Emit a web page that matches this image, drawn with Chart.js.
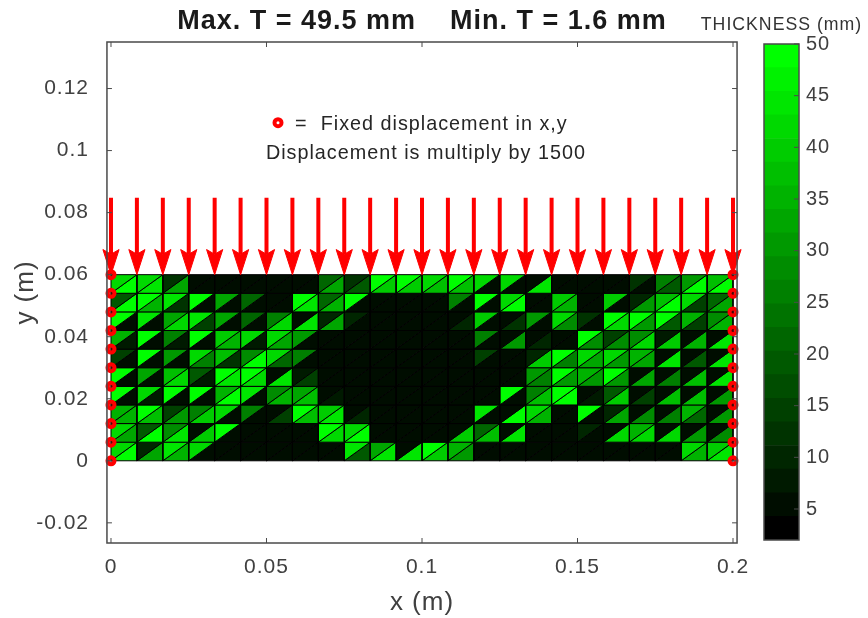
<!DOCTYPE html>
<html>
<head>
<meta charset="utf-8">
<title>Thickness map</title>
<script src="https://cdn.jsdelivr.net/npm/chart.js@4/dist/chart.umd.min.js"></script>
<style>
  html, body { margin: 0; padding: 0; background: #fff; }
  #wrap { position: relative; width: 868px; height: 618px; overflow: hidden; }
  #meshChart { position: absolute; left: 0; top: 0; }
  #barChart { position: absolute; left: 694px; top: 0; }
</style>
</head>
<body>
<div id="wrap">
  <canvas id="meshChart" width="868" height="618"></canvas>
  <canvas id="barChart" width="174" height="559"></canvas>
</div>
<script>
// mesh nodes
const xNodes = [0, 0.00833, 0.01667, 0.025, 0.03333, 0.04167, 0.05, 0.05833, 0.06667, 0.075, 0.08333, 0.09167, 0.1,
  0.10833, 0.11667, 0.125, 0.13333, 0.14167, 0.15, 0.15833, 0.16667, 0.175, 0.18333, 0.19167, 0.2];
const yNodes = [0.06, 0.054, 0.048, 0.042, 0.036, 0.03, 0.024, 0.018, 0.012, 0.006, 0];

// thickness (mm), one row per element row from the top, upper-left triangles
const upperThickness = [
  [42,42,12,5,5,5,5,5, 22,12,48,48,42,48,42,42, 6,5,5,5,12,25,30,38],
  [18,50,45,50,32,22,5,48, 22,50,5,5,5,25,48,42, 5,40,5,40,10,38,42,22],
  [48,45,33,45,32,22,25,5, 10,10,5,5,5,5,40,5, 30,42,12,48,48,48,35,28],
  [35,48,25,48,40,42,42,30, 5,5,5,5,5,5,25,5, 5,5,48,15,28,8,5,5],
  [15,48,30,42,38,28,42,25, 5,5,5,5,5,5,15,5, 10,48,42,42,35,5,5,5],
  [48,32,38,20,50,50,5,8, 5,5,5,5,5,5,5,5, 30,48,35,48,5,5,5,5],
  [48,42,48,48,35,45,28,33, 5,5,5,5,5,5,5,48, 25,48,5,18,5,5,5,5],
  [35,48,15,25,42,25,5,48, 40,5,5,5,5,5,45,5, 42,5,48,10,5,5,35,5],
  [42,20,28,5,48,5,5,5, 48,42,5,5,5,5,22,5, 5,5,10,5,35,5,5,5],
  [42,10,45,42,5,5,5,5, 5,45,32,5,48,35,5,5, 5,5,5,5,5,5,42,40]
];
// lower-right triangles
const lowerThickness = [
  [50,45,32,5,5,5,5,5, 32,20,40,40,38,38,5,5, 45,5,5,5,5,18,48,48],
  [48,35,12,5,5,6,5,45, 35,5,5,5,5,5,5,48, 5,35,5,5,30,48,15,32],
  [5,5,42,15,5,5,42,45, 32,5,5,5,5,10,5,12, 5,28,5,42,30,18,15,35],
  [8,5,8,5,35,8,32,5, 5,5,5,5,5,5,5,30, 10,5,28,28,42,40,35,45],
  [5,5,5,25,12,50,22,5, 5,5,5,5,5,5,5,5, 40,25,32,30,32,45,20,45],
  [5,5,42,8,45,42,45,15, 5,5,5,5,5,5,5,5, 25,30,30,30,32,25,38,45],
  [5,8,5,5,48,5,35,38, 8,5,5,5,5,5,5,5, 38,48,8,40,15,38,38,30],
  [35,38,30,40,5,5,15,38, 45,10,5,5,5,5,5,48, 35,6,5,32,28,25,22,30],
  [32,50,45,40,5,5,5,5, 42,48,5,5,5,40,38,45, 5,5,5,42,42,42,30,28],
  [48,32,35,5,5,5,5,5, 5,20,45,45,40,30,6,5, 5,5,5,5,5,5,35,45]
];

const xTicks = [0, 0.05, 0.1, 0.15, 0.2];
const yTicks = [-0.02, 0, 0.02, 0.04, 0.06, 0.08, 0.1, 0.12];
const barTicks = [5, 10, 15, 20, 25, 30, 35, 40, 45, 50];

const thicknessMin = 2;
const thicknessMax = 50;
const bandCount = 21;

// axes box limits; the scales run a little wider so the outer arrow heads are not cut
const boxX = [-0.0013, 0.2013];
const boxY = [-0.0265, 0.135];

const titleText = "Max. T = 49.5 mm    Min. T = 1.6 mm";
const noteFixed = "=  Fixed displacement in x,y";
const noteScale = "Displacement is multiply by 1500";
const barTitle = "THICKNESS (mm)";

const labelColor = "#404040";
const sansFont = "'Liberation Sans', Arial, sans-serif";
const textSpacing = "1px";

function bandIndex(t) {
  const k = Math.floor((t - thicknessMin) / (thicknessMax - thicknessMin) * bandCount);
  return Math.max(0, Math.min(bandCount - 1, k));
}

function bandColor(k) {
  return `rgb(0,${Math.round(255 * k / (bandCount - 1))},0)`;
}

// the two triangles of every element
const meshDatasets = [];
upperThickness.forEach((row, r) => {
  row.forEach((t, c) => {
    const x0 = xNodes[c], x1 = xNodes[c + 1], yT = yNodes[r], yB = yNodes[r + 1];
    const upper = [{x: x0, y: yB}, {x: x0, y: yT}, {x: x1, y: yT}, {x: x0, y: yB}];
    const lower = [{x: x0, y: yB}, {x: x1, y: yT}, {x: x1, y: yB}, {x: x0, y: yB}];
    meshDatasets.push(triangle(upper, t));
    meshDatasets.push(triangle(lower, lowerThickness[r][c]));
  });
});

function triangle(points, t) {
  const col = bandColor(bandIndex(t));
  return {
    data: points,
    showLine: true,
    pointRadius: 0,
    borderColor: "#000",
    borderWidth: 1,
    backgroundColor: col,
    fill: "shape",
    tension: 0
  };
}

// load arrows, one per top node
const arrowTop = 0.0848;
const arrowTip = 0.06;
const arrowNeck = 0.0666;
const arrowWingY = 0.0681;
const arrowWing = 0.0026;

const arrowDatasets = [];
xNodes.forEach(x => {
  arrowDatasets.push({
    data: [{x: x, y: arrowTop}, {x: x, y: arrowNeck}],
    showLine: true,
    pointRadius: 0,
    borderColor: "#ff0000",
    borderWidth: 4,
    clip: false
  });
  arrowDatasets.push({
    data: [{x: x, y: arrowTip}, {x: x + arrowWing, y: arrowWingY}, {x: x, y: arrowNeck},
      {x: x - arrowWing, y: arrowWingY}, {x: x, y: arrowTip}],
    showLine: true,
    pointRadius: 0,
    borderColor: "#ff0000",
    borderWidth: 1,
    backgroundColor: "#ff0000",
    fill: "shape",
    tension: 0,
    clip: false
  });
});

// fixed nodes on both ends, plus the key marker
const fixedNodes = [];
yNodes.forEach(y => {
  fixedNodes.push({x: xNodes[0], y: y});
  fixedNodes.push({x: xNodes[xNodes.length - 1], y: y});
});
const fixedDataset = {
  data: fixedNodes,
  showLine: false,
  pointRadius: 3.5,
  pointBorderWidth: 4,
  pointBorderColor: "#ff0000",
  pointBackgroundColor: "rgba(120,0,0,0.6)",
  clip: false
};
const keyDataset = {
  data: [{x: 0.0537, y: 0.109}],
  showLine: false,
  pointRadius: 3.5,
  pointBorderWidth: 4,
  pointBorderColor: "#ff0000",
  pointBackgroundColor: "#fff",
  clip: false
};

// wider glyph spacing, the reference text is stretched
const spacingPlugin = {
  id: "spacingPlugin",
  beforeDraw(chart) { chart.ctx.letterSpacing = textSpacing; }
};

// MATLAB style box with inward ticks
const boxPlugin = {
  id: "boxPlugin",
  afterDraw(chart) {
    const {ctx, scales} = chart;
    const left = scales.x.getPixelForValue(boxX[0]);
    const right = scales.x.getPixelForValue(boxX[1]);
    const bottom = scales.y.getPixelForValue(boxY[0]);
    const top = scales.y.getPixelForValue(boxY[1]);
    ctx.save();
    ctx.strokeStyle = "#4a4a4a";
    ctx.lineWidth = 1.5;
    ctx.strokeRect(left, top, right - left, bottom - top);
    ctx.lineWidth = 1;
    ctx.beginPath();
    xTicks.forEach(v => {
      const px = scales.x.getPixelForValue(v);
      ctx.moveTo(px, bottom); ctx.lineTo(px, bottom - 5);
      ctx.moveTo(px, top); ctx.lineTo(px, top + 5);
    });
    yTicks.forEach(v => {
      const py = scales.y.getPixelForValue(v);
      ctx.moveTo(left, py); ctx.lineTo(left + 5, py);
      ctx.moveTo(right, py); ctx.lineTo(right - 5, py);
    });
    ctx.stroke();
    // notes inside the axes
    ctx.fillStyle = "#262626";
    ctx.font = "19.8px " + sansFont;
    ctx.textBaseline = "middle";
    ctx.textAlign = "left";
    ctx.fillText(noteFixed, scales.x.getPixelForValue(0.0592), scales.y.getPixelForValue(0.1085));
    ctx.fillText(noteScale, scales.x.getPixelForValue(0.0498), scales.y.getPixelForValue(0.099));
    ctx.restore();
  }
};

new Chart(document.getElementById("meshChart"), {
  type: "scatter",
  data: {
    datasets: [keyDataset, fixedDataset, ...arrowDatasets, ...meshDatasets]
  },
  options: {
    responsive: false,
    animation: false,
    events: [],
    layout: { padding: { left: 0, right: 121, top: 0, bottom: 0 } },
    plugins: {
      legend: { display: false },
      tooltip: { enabled: false },
      title: {
        display: true,
        text: titleText,
        fullSize: false,
        color: "#1a1a1a",
        font: { family: sansFont, size: 27, weight: "bold", lineHeight: 1.2 },
        padding: { top: 5.8, bottom: 3.8 }
      }
    },
    scales: {
      x: {
        type: "linear",
        min: -0.0045,
        max: 0.2045,
        grid: { display: false, drawTicks: false },
        border: { display: false },
        afterFit(scale) { scale.height = 75; },
        afterBuildTicks(scale) { scale.ticks = xTicks.map(v => ({value: v})); },
        ticks: {
          color: labelColor,
          padding: 12,
          maxRotation: 0,
          font: { family: sansFont, size: 21 },
          callback: v => String(Number(v.toFixed(2)))
        },
        title: {
          display: true,
          text: "x (m)",
          color: labelColor,
          font: { family: sansFont, size: 26 },
          padding: { top: 0, bottom: 0 }
        }
      },
      y: {
        type: "linear",
        min: boxY[0],
        max: boxY[1],
        grid: { display: false, drawTicks: false },
        border: { display: false },
        afterFit(scale) { scale.width = 97; },
        afterBuildTicks(scale) { scale.ticks = yTicks.map(v => ({value: v})); },
        ticks: {
          color: labelColor,
          padding: 8,
          font: { family: sansFont, size: 21 },
          callback: v => String(Number(v.toFixed(2)))
        },
        title: {
          display: true,
          text: "y (m)",
          color: labelColor,
          font: { family: sansFont, size: 26 },
          padding: { top: 10, bottom: 0 }
        }
      }
    }
  },
  plugins: [spacingPlugin, boxPlugin]
});

// colour bar: one floating bar per band
const bandDatasets = [];
for (let k = 0; k < bandCount; k++) {
  const step = (thicknessMax - thicknessMin) / bandCount;
  bandDatasets.push({
    data: [[thicknessMin + k * step, thicknessMin + (k + 1) * step]],
    backgroundColor: bandColor(k),
    borderWidth: 0,
    barPercentage: 1,
    categoryPercentage: 1,
    grouped: false
  });
}

const barBoxPlugin = {
  id: "barBoxPlugin",
  afterDraw(chart) {
    const {ctx, chartArea, scales} = chart;
    ctx.save();
    ctx.strokeStyle = "#4a4a4a";
    ctx.lineWidth = 1.5;
    ctx.strokeRect(chartArea.left, chartArea.top, chartArea.right - chartArea.left, chartArea.bottom - chartArea.top);
    ctx.lineWidth = 1;
    ctx.beginPath();
    barTicks.forEach(v => {
      const py = scales.y.getPixelForValue(v);
      ctx.moveTo(chartArea.right, py); ctx.lineTo(chartArea.right - 5, py);
    });
    ctx.stroke();
    ctx.fillStyle = "#333";
    ctx.font = "17.7px " + sansFont;
    ctx.textAlign = "center";
    ctx.textBaseline = "middle";
    ctx.fillText(barTitle, (chartArea.left + chartArea.right) / 2, 25);
    ctx.restore();
  }
};

new Chart(document.getElementById("barChart"), {
  type: "bar",
  data: { labels: ["T"], datasets: bandDatasets },
  options: {
    responsive: false,
    animation: false,
    events: [],
    layout: { padding: { left: 70, right: 0, top: 44, bottom: 0 } },
    plugins: {
      legend: { display: false },
      tooltip: { enabled: false }
    },
    scales: {
      x: {
        display: false
      },
      y: {
        position: "right",
        min: thicknessMin,
        max: thicknessMax,
        grid: { display: false, drawTicks: false },
        border: { display: false },
        afterFit(scale) { scale.width = 69; },
        afterBuildTicks(scale) { scale.ticks = barTicks.map(v => ({value: v})); },
        ticks: {
          color: labelColor,
          padding: 7,
          font: { family: sansFont, size: 20 }
        }
      }
    }
  },
  plugins: [spacingPlugin, barBoxPlugin]
});
</script>
</body>
</html>
